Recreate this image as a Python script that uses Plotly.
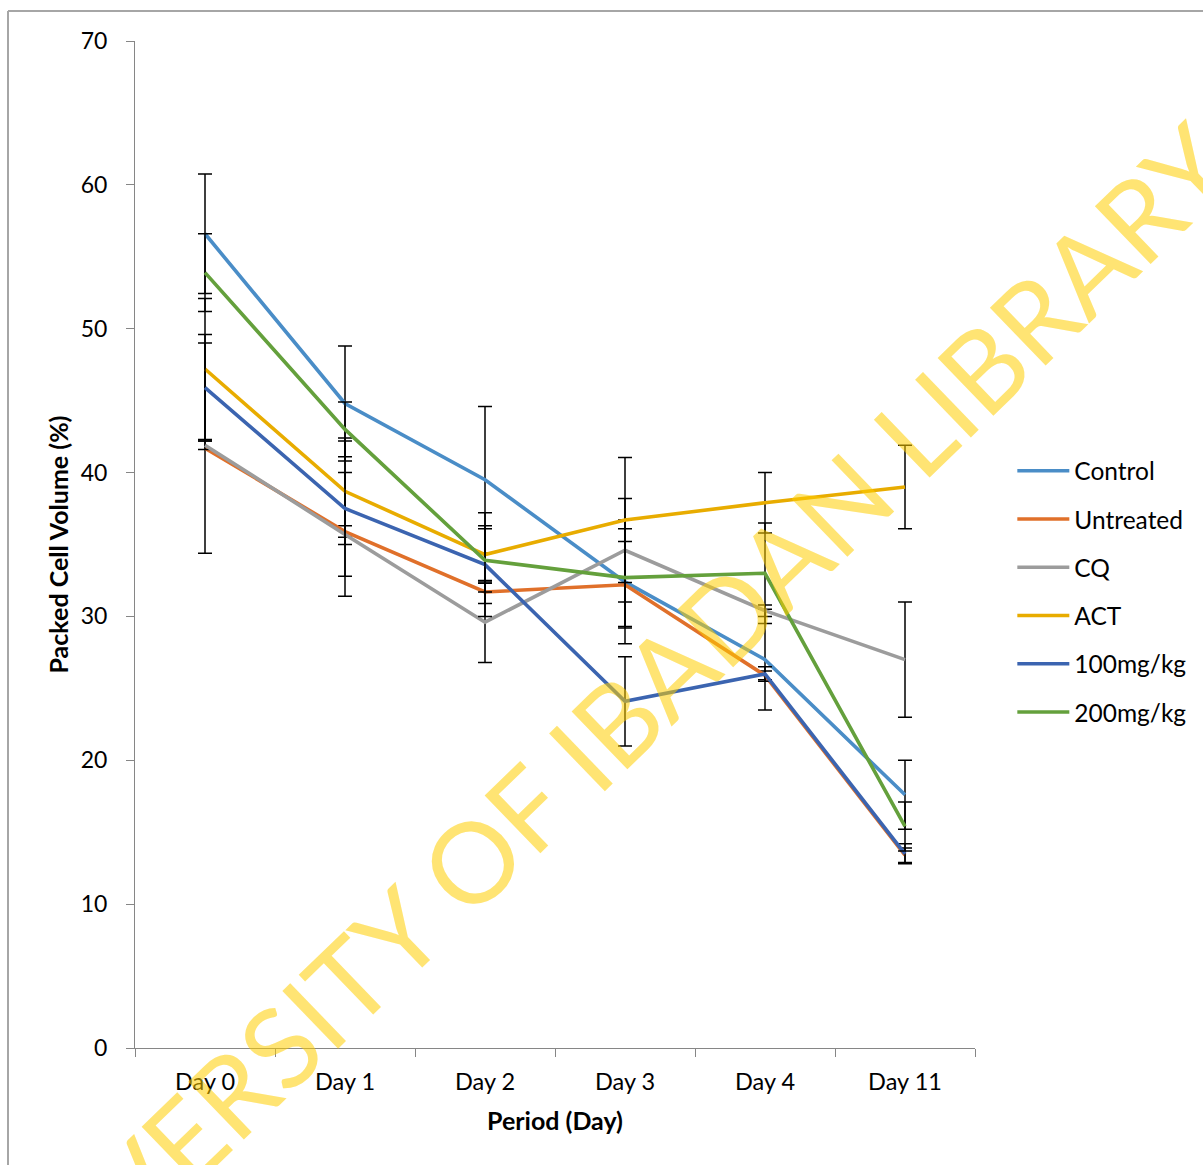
import plotly.graph_objects as go

days = ["Day 0", "Day 1", "Day 2", "Day 3", "Day 4", "Day 11"]

control = [56.6, 44.8, 39.5, 32.4, 27.0, 17.6]
control_err = [4.15, 4.0, 5.1, 4.3, 3.5, 2.4]
untreated = [41.7, 35.9, 31.7, 32.2, 25.9, 13.4]
untreated_err = [7.3, 0.4, 0.8, 3.0, 0.3, 0.5]
cq = [41.9, 35.7, 29.6, 34.6, 30.4, 27.0]
cq_err = [0.3, 4.3, 2.8, 3.6, 0.4, 4.0]
act = [47.2, 38.7, 34.3, 36.7, 37.9, 39.0]
act_err = [4.9, 3.7, 2.0, 4.35, 2.1, 2.9]
mg100 = [45.9, 37.5, 33.6, 24.1, 26.0, 13.5]
mg100_err = [3.7, 4.7, 3.6, 3.1, 0.5, 0.7]
mg200 = [53.9, 43.0, 33.9, 32.7, 33.0, 15.4]
mg200_err = [2.7, 1.9, 2.2, 3.4, 3.5, 1.7]

series = [
    ("Control", control, control_err, "#4A8DC7"),
    ("Untreated", untreated, untreated_err, "#E0702A"),
    ("CQ", cq, cq_err, "#9C9C9C"),
    ("ACT", act, act_err, "#E8AC00"),
    ("100mg/kg", mg100, mg100_err, "#3B64B0"),
    ("200mg/kg", mg200, mg200_err, "#64A03C"),
]

FONT = "Lato, Carlito, Calibri, sans-serif"

fig = go.Figure()
for i, (name, vals, errs, col) in enumerate(series):
    fig.add_trace(go.Scatter(
        x=days, y=vals, name=name, mode="lines",
        line=dict(color=col, width=3.6),
        legendgroup=f"g{i}",
        error_y=dict(type="data", array=errs, visible=True,
                     color="#000000", thickness=1.5, width=7),
    ))

fig.update_layout(
    width=1203, height=1165,
    margin=dict(l=135, r=228, t=41, b=117),
    paper_bgcolor="white", plot_bgcolor="white",
    font=dict(family=FONT, size=23, color="#000000"),
    showlegend=True,
    legend=dict(xref="container", x=0.8415, xanchor="left", y=0.453, yanchor="middle",
                font=dict(family=FONT, size=24.5, color="#000000"),
                tracegroupgap=13.4, itemwidth=52, bgcolor="rgba(0,0,0,0)"),
    xaxis=dict(
        type="category", range=[-0.5, 5.5], automargin=False,
        showline=True, linecolor="#868686", linewidth=1,
        ticks="outside", tickson="boundaries", ticklen=8, tickcolor="#868686",
        showgrid=False, zeroline=False,
        tickfont=dict(family=FONT, size=23.5),
        ticklabelstandoff=13,
        title=dict(text="<b>Period (Day)</b>", font=dict(family=FONT, size=25), standoff=18),
    ),
    yaxis=dict(
        range=[0, 70], dtick=10, automargin=False,
        showline=True, linecolor="#868686", linewidth=1,
        ticks="outside", ticklen=8, tickcolor="#868686",
        showgrid=False, zeroline=False,
        tickfont=dict(family=FONT, size=23),
        ticklabelstandoff=14,
        title=dict(text="<b>Packed Cell Volume (%)</b>", font=dict(family=FONT, size=25), standoff=4),
    ),
)

# chart-area border (top and left edges visible)
fig.add_shape(type="line", xref="paper", yref="paper",
              x0=(8 - 135) / 840, x1=1.4, y0=(1048 - 11) / 1007, y1=(1048 - 11) / 1007,
              line=dict(color="#A6A6A6", width=2))
fig.add_shape(type="line", xref="paper", yref="paper",
              x0=(8 - 135) / 840, x1=(8 - 135) / 840, y0=(1048 - 11) / 1007, y1=-0.2,
              line=dict(color="#A6A6A6", width=2))

# watermark
fig.add_annotation(
    text="UNIVERSITY OF IBADAN LIBRARY", xref="paper", yref="paper",
    x=(586 - 135) / 840, y=(1048 - 748) / 1007, showarrow=False,
    textangle=-44, xanchor="center", yanchor="middle",
    font=dict(family=FONT, size=112, color="rgba(255,205,0,0.55)"),
)

fig.write_html("out.html")
